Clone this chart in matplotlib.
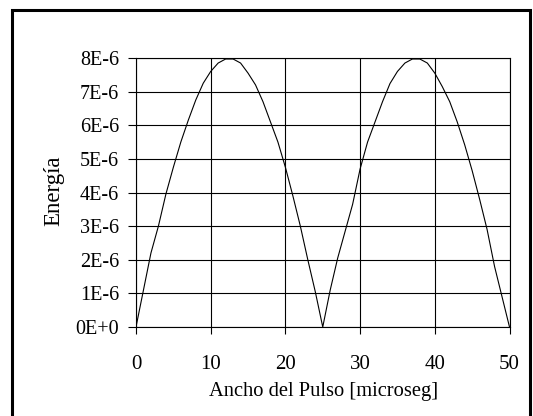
import matplotlib
matplotlib.use("Agg")
import matplotlib.pyplot as plt
from matplotlib.patches import Rectangle

# Data
ancho = list(range(0, 51))
energia_e6 = [0.0, 1.1, 2.2, 3.0, 3.95, 4.75, 5.5, 6.15, 6.75, 7.25,
              7.6, 7.85, 7.97, 7.97, 7.85, 7.55, 7.2, 6.7, 6.1, 5.5,
              4.75, 3.9, 3.0, 2.0, 1.05, 0.0, 1.1, 2.05, 2.85, 3.65,
              4.7, 5.5, 6.1, 6.7, 7.24, 7.6, 7.85, 7.97, 7.97, 7.85,
              7.55, 7.15, 6.7, 6.1, 5.42, 4.65, 3.8, 2.9, 1.8, 0.9, 0.0]
energia = [v * 1e-6 for v in energia_e6]

x_ticks = [0, 10, 20, 30, 40, 50]
y_ticks = [0, 1e-6, 2e-6, 3e-6, 4e-6, 5e-6, 6e-6, 7e-6, 8e-6]
y_tick_labels = ["0E+0", "1E-6", "2E-6", "3E-6", "4E-6", "5E-6", "6E-6", "7E-6", "8E-6"]

plt.rcParams['font.family'] = ['Liberation Serif', 'DejaVu Serif']

W, H = 533, 416
fig = plt.figure(figsize=(W / 100, H / 100), dpi=100)
fig.patch.set_facecolor('white')

# outer chart border
fig.add_artist(Rectangle((12 / W, -0.05), (530 - 12) / W, 1.05 - 10 / H,
                         transform=fig.transFigure, fill=False,
                         edgecolor='black', linewidth=2.2))

left, right, top, bottom = 136, 509.5, 58, 327
ax = fig.add_axes([left / W, 1 - bottom / H, (right - left) / W, (bottom - top) / H])

ax.plot(ancho, energia, color='black', linewidth=0.8, zorder=3)

ax.set_xlim(0, 50)
ax.set_ylim(0, 8e-6)
ax.set_xticks(x_ticks)
ax.set_xticklabels([str(t) for t in x_ticks])
ax.set_yticks(y_ticks)
ax.set_yticklabels(y_tick_labels)

ax.grid(True, color='black', linewidth=0.8)
ax.set_axisbelow(True)
for s in ax.spines.values():
    s.set_color('black')
    s.set_linewidth(0.8)

ax.tick_params(axis='x', direction='out', length=5, width=0.8, pad=15, labelsize=15)
ax.tick_params(axis='y', direction='out', length=6, width=0.8, pad=6, labelsize=14.5)

ax.set_xlabel("Ancho del Pulso [microseg]", fontsize=14.8)
ax.xaxis.set_label_coords(0.502, -0.205)
ax.set_ylabel("Energía", fontsize=16.5)
ax.yaxis.set_label_coords(-0.22, 0.505)
ax.yaxis.label.set_va('center')

fig.savefig("out.png", dpi=100, facecolor='white')
